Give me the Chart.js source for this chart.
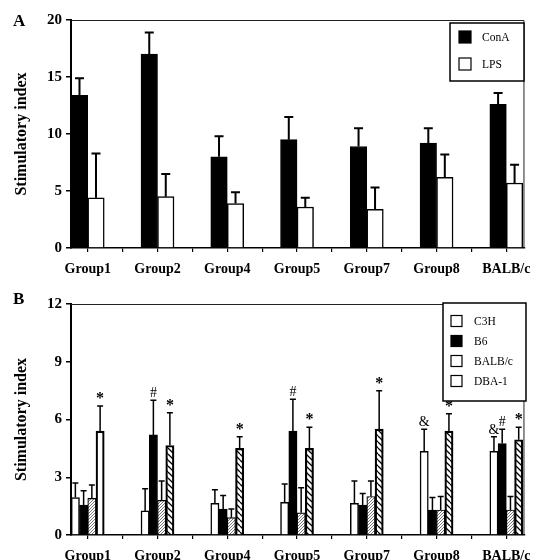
<!DOCTYPE html>
<html lang="en">
<head>
<meta charset="UTF-8">
<title>Stimulatory index</title>
<style>
  body { margin: 0; background: #fff; }
  .page { position: relative; width: 540px; height: 560px; overflow: hidden; background: #fff; }
  .panel { position: absolute; left: 0; width: 540px; height: 280px; }
  .tag { position: absolute; left: 13px; font: bold 17px "Liberation Serif", "Times New Roman", serif; line-height: 1; color: #000; }
</style>
<script src="https://cdn.jsdelivr.net/npm/chart.js@4.4.1/dist/chart.umd.min.js"></script>
</head>
<body>
<div class="page">
  <canvas id="chartA" class="panel" style="top:0" width="540" height="280"></canvas>
  <canvas id="chartB" class="panel" style="top:280px" width="540" height="280"></canvas>
  <div class="tag" style="top:12px">A</div>
  <div class="tag" style="top:290px">B</div>
</div>
<script>
const groups = ['Group1', 'Group2', 'Group4', 'Group5', 'Group7', 'Group8', 'BALB/c'];

// panel A : ConA / LPS (mean and SD)
const conA    = [13.4, 17.0, 8.0, 9.5, 8.9, 9.2, 12.6];
const conA_sd = [1.5, 1.9, 1.8, 2.0, 1.6, 1.3, 1.0];
const lps     = [4.4, 4.5, 3.9, 3.6, 3.4, 6.2, 5.7];
const lps_sd  = [3.9, 2.0, 1.0, 0.8, 1.9, 2.0, 1.6];
const ticksA  = [0, 5, 10, 15, 20];

// panel B : strains
const c3h       = [1.95, 1.25, 1.65, 1.7, 1.65, 4.35, 4.35];
const c3h_sd    = [0.75, 1.15, 0.7, 0.95, 1.15, 1.15, 0.75];
const b6        = [1.55, 5.2, 1.35, 5.4, 1.55, 1.3, 4.75];
const b6_sd     = [0.75, 1.8, 0.7, 1.65, 0.6, 0.65, 0.75];
const balbc     = [1.9, 1.8, 0.9, 1.15, 2.0, 1.3, 1.3];
const balbc_sd  = [0.7, 1.0, 0.45, 1.3, 0.8, 0.7, 0.7];
const dba1      = [5.4, 4.65, 4.5, 4.5, 5.5, 5.4, 4.95];
const dba1_sd   = [1.3, 1.7, 0.6, 1.1, 2.0, 0.9, 0.65];
const ticksB    = [0, 3, 6, 9, 12];

// significance marks
const c3h_marks  = ['', '', '', '', '', '&', '&'];
const b6_marks   = ['', '#', '', '#', '', '', '#'];
const dba1_marks = ['*', '*', '*', '*', '*', '*', '*'];

const serif = '"Liberation Serif", "Times New Roman", serif';

// patterns for BALB/c (stipple) and DBA-1 (hatch)
function makeDots() {
  const c = document.createElement('canvas');
  c.width = 3; c.height = 3;
  const g = c.getContext('2d');
  g.fillStyle = '#fff'; g.fillRect(0, 0, 3, 3);
  g.fillStyle = '#777';
  g.fillRect(0, 0, 1, 1);
  g.fillRect(2, 1, 1, 1);
  g.fillRect(1, 2, 1, 1);
  return g.createPattern(c, 'repeat');
}
function makeHatch() {
  const c = document.createElement('canvas');
  c.width = 6; c.height = 6;
  const g = c.getContext('2d');
  g.fillStyle = '#fff'; g.fillRect(0, 0, 6, 6);
  g.strokeStyle = '#000'; g.lineWidth = 1.3;
  g.beginPath();
  for (let k = -1; k <= 1; k++) {
    g.moveTo(k * 6, 0);
    g.lineTo(k * 6 + 6, 6);
  }
  g.stroke();
  return g.createPattern(c, 'repeat');
}
const dots = makeDots();
const hatch = makeHatch();

// ticks at group centres and half way between them
const xTicks = [];
groups.forEach((g, i) => {
  xTicks.push(i);
  if (i < groups.length - 1) xTicks.push(i + 0.5);
});

const points = arr => arr.map((v, i) => ({ x: i, y: v }));

// error bars + marks
const errorBars = {
  id: 'errorBars',
  afterDatasetsDraw(chart, args, opts) {
    const ctx = chart.ctx;
    const yScale = chart.scales.y;
    chart.data.datasets.forEach((ds, i) => {
      const meta = chart.getDatasetMeta(i);
      meta.data.forEach((bar, j) => {
        const top = yScale.getPixelForValue(ds.data[j].y + ds.sd[j]);
        ctx.save();
        ctx.strokeStyle = '#000';
        ctx.lineWidth = opts.width;
        ctx.beginPath();
        ctx.moveTo(bar.x, bar.y);
        ctx.lineTo(bar.x, top);
        ctx.moveTo(bar.x - opts.cap / 2, top);
        ctx.lineTo(bar.x + opts.cap / 2, top);
        ctx.stroke();
        const m = ds.marks ? ds.marks[j] : '';
        if (m) {
          ctx.fillStyle = '#000';
          ctx.textAlign = 'center';
          ctx.textBaseline = 'alphabetic';
          ctx.font = m === '*' ? `bold 16px ${serif}` : `14px ${serif}`;
          ctx.fillText(m, bar.x, top - 3);
        }
        ctx.restore();
      });
    });
  }
};

// thin top / right frame
const frame = {
  id: 'frame',
  beforeDatasetsDraw(chart) {
    const { ctx, chartArea: a } = chart;
    ctx.save();
    ctx.strokeStyle = '#222';
    ctx.lineWidth = 1;
    ctx.beginPath();
    ctx.moveTo(a.left, a.top + 0.5);
    ctx.lineTo(a.right - 0.5, a.top + 0.5);
    ctx.lineTo(a.right - 0.5, a.bottom);
    ctx.stroke();
    ctx.restore();
  }
};

// boxed legend
const boxLegend = {
  id: 'boxLegend',
  afterDraw(chart, args, o) {
    const ctx = chart.ctx;
    ctx.save();
    ctx.fillStyle = '#fff';
    ctx.fillRect(o.x, o.y, o.w, o.h);
    ctx.strokeStyle = '#000';
    ctx.lineWidth = 1.5;
    ctx.strokeRect(o.x, o.y, o.w, o.h);
    ctx.font = `${o.fontSize}px ${serif}`;
    ctx.textBaseline = 'middle';
    ctx.textAlign = 'left';
    chart.data.datasets.forEach((ds, i) => {
      const cy = o.y + o.first + i * o.step;
      ctx.fillStyle = o.swatches[i];
      ctx.fillRect(o.x + o.sx, cy - o.size / 2, o.size, o.size);
      ctx.lineWidth = 1.2;
      ctx.strokeRect(o.x + o.sx, cy - o.size / 2, o.size, o.size);
      ctx.fillStyle = '#000';
      ctx.fillText(ds.label, o.x + o.tx, cy + 1);
    });
    ctx.restore();
  }
};

function makeOptions(yTicks, top, xHeight, legend, err) {
  return {
    responsive: false,
    animation: false,
    layout: { padding: { top: top, right: 14, left: 0, bottom: 0 } },
    plugins: {
      legend: { display: false },
      tooltip: { enabled: false },
      errorBars: err,
      boxLegend: legend
    },
    scales: {
      x: {
        type: 'linear',
        min: -0.24,
        max: 6.26,
        offset: false,
        afterBuildTicks: ax => { ax.ticks = xTicks.map(v => ({ value: v })); },
        afterFit: ax => { ax.height = xHeight; },
        grid: { drawOnChartArea: false, drawTicks: true, tickLength: 4, color: '#000', lineWidth: 1.2, offset: false },
        border: { color: '#000', width: 1.5 },
        ticks: {
          autoSkip: false, maxRotation: 0, minRotation: 0, padding: 9, color: '#000',
          font: { family: serif, size: 14, weight: 'bold' },
          callback: v => Number.isInteger(v) ? groups[v] : ''
        }
      },
      y: {
        min: yTicks[0],
        max: yTicks[yTicks.length - 1],
        afterBuildTicks: ax => { ax.ticks = yTicks.map(v => ({ value: v })); },
        afterFit: ax => { ax.width = 71; },
        grid: { drawOnChartArea: false, drawTicks: true, tickLength: 5, color: '#000', lineWidth: 1.5 },
        border: { color: '#000', width: 2 },
        ticks: { padding: 4, color: '#000', font: { family: serif, size: 15, weight: 'bold' } },
        title: {
          display: true, text: 'Stimulatory index', color: '#000',
          font: { family: serif, size: 16, weight: 'bold' },
          padding: { top: 12, bottom: 0 }
        }
      }
    }
  };
}

new Chart(document.getElementById('chartA'), {
  type: 'bar',
  data: {
    datasets: [
      { label: 'ConA', data: points(conA), sd: conA_sd, backgroundColor: '#000', borderColor: '#000', borderWidth: 1, barThickness: 16.5 },
      { label: 'LPS', data: points(lps), sd: lps_sd, backgroundColor: '#fff', borderColor: '#000', borderWidth: 1.5, barThickness: 16.5 }
    ]
  },
  options: makeOptions(ticksA, 20, 32,
    { x: 450, y: 23, w: 74, h: 58, first: 14, step: 27, sx: 9, tx: 32, size: 12, fontSize: 11.5, swatches: ['#000', '#fff'] },
    { width: 2, cap: 9 }),
  plugins: [frame, errorBars, boxLegend]
});

new Chart(document.getElementById('chartB'), {
  type: 'bar',
  data: {
    datasets: [
      { label: 'C3H', data: points(c3h), sd: c3h_sd, marks: c3h_marks, backgroundColor: '#fff', borderColor: '#000', borderWidth: 1.5, barThickness: 8.25 },
      { label: 'B6', data: points(b6), sd: b6_sd, marks: b6_marks, backgroundColor: '#000', borderColor: '#000', borderWidth: 1, barThickness: 8.25 },
      { label: 'BALB/c', data: points(balbc), sd: balbc_sd, backgroundColor: dots, borderColor: '#000', borderWidth: 1.2, barThickness: 8.25 },
      { label: 'DBA-1', data: points(dba1), sd: dba1_sd, marks: dba1_marks, backgroundColor: ['#fff', hatch, hatch, hatch, hatch, hatch, hatch], borderColor: '#000', borderWidth: 2.2, barThickness: 8.25 }
    ]
  },
  options: makeOptions(ticksB, 24, 25,
    { x: 443, y: 23, w: 83, h: 98, first: 18, step: 20, sx: 8, tx: 31, size: 11, fontSize: 11.5, swatches: ['#fff', '#000', '#fff', '#fff'] },
    { width: 1.5, cap: 6 }),
  plugins: [frame, errorBars, boxLegend]
});
</script>
</body>
</html>
